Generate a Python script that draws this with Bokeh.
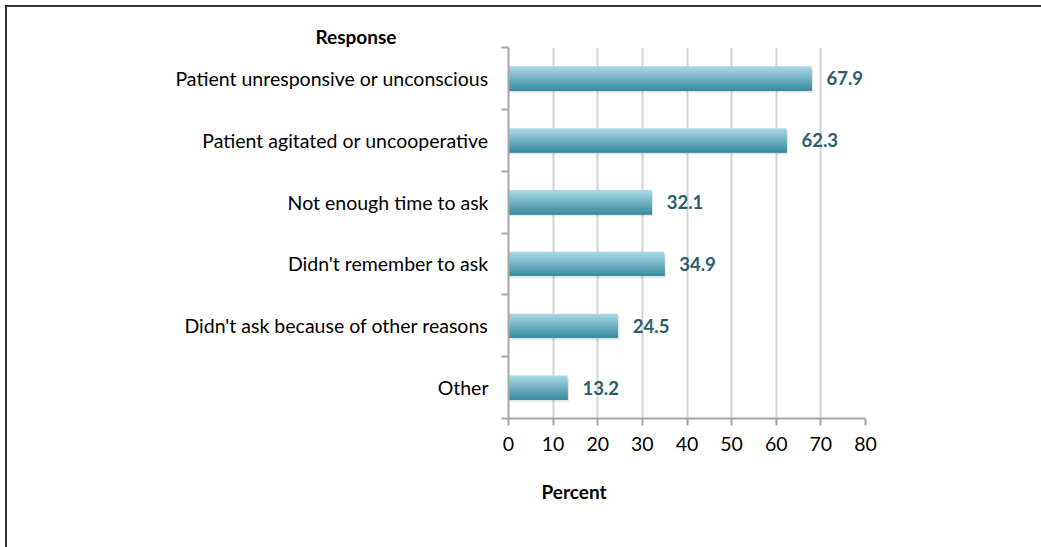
from bokeh.plotting import figure
from bokeh.models import Range1d, FixedTicker, Title
from bokeh.core.properties import value
from bokeh.embed import file_html
from bokeh.resources import INLINE

categories = [
    "Patient unresponsive or unconscious",
    "Patient agitated or uncooperative",
    "Not enough time to ask",
    "Didn't remember to ask",
    "Didn't ask because of other reasons",
    "Other",
]
percent = [67.9, 62.3, 32.1, 34.9, 24.5, 13.2]
x_ticks = [0, 10, 20, 30, 40, 50, 60, 70, 80]
y_title = "Response"
x_title = "Percent"

FONT = "Lato"
W, H = 1041, 547

pos = list(range(len(categories)))

p = figure(width=W, height=H, output_backend="svg", toolbar_location=None,
           x_range=Range1d(0, 80), y_range=Range1d(len(categories) - 0.5, -0.5),
           min_border_left=508, min_border_right=176, min_border_top=47,
           min_border_bottom=129,
           styles={"box-shadow": "inset 5px 5px 0 0 #ffffff, inset 7px 7px 0 0 #333333"})
p.outline_line_color = None
p.background_fill_color = "white"
p.border_fill_color = None

# grid
p.ygrid.grid_line_color = None
p.xgrid.grid_line_color = "#d2d2d2"
p.xgrid.grid_line_width = 2
p.xgrid.ticker = FixedTicker(ticks=x_ticks)

# x axis
xa = p.xaxis[0]
xa.ticker = FixedTicker(ticks=x_ticks)
xa.axis_line_color = "#a6a6a6"
xa.axis_line_width = 2
xa.major_tick_line_color = "#a6a6a6"
xa.major_tick_line_width = 2
xa.major_tick_out = 7
xa.major_tick_in = 0
xa.minor_tick_line_color = None
xa.major_label_text_font = FONT
xa.major_label_text_font_size = "19.5px"
xa.major_label_text_color = "#000000"
xa.major_label_standoff = 11

# y axis
ya = p.yaxis[0]
ya.ticker = FixedTicker(ticks=pos, minor_ticks=[i - 0.5 for i in range(len(categories) + 1)])
ya.major_label_overrides = {i: c for i, c in enumerate(categories)}
ya.axis_line_color = "#a6a6a6"
ya.axis_line_width = 2
ya.major_tick_line_color = None
ya.major_tick_out = 0
ya.major_tick_in = 0
ya.minor_tick_line_color = "#a6a6a6"
ya.minor_tick_line_width = 2
ya.minor_tick_out = 7
ya.minor_tick_in = 0
ya.major_label_text_font = FONT
ya.major_label_text_font_size = "19.5px"
ya.major_label_text_color = "#000000"
ya.major_label_standoff = 13

# bar shadow
bar_h = 0.39
p.hbar(y=[y + 0.035 for y in pos], left=0, right=[v + 0.35 for v in percent],
       height=bar_h, fill_color="#000000", fill_alpha=0.10, line_color=None)

# gradient bars: successive strips from each level down to the bar bottom
top_c = (0xa8, 0xd8, 0xe3)
bot_c = (0x3c, 0x8d, 0xa1)
n = 16
for k in range(n):
    t = k / (n - 1)
    c = tuple(int(round(top_c[i] + (bot_c[i] - top_c[i]) * t)) for i in range(3))
    col = "#%02x%02x%02x" % c
    start = -bar_h / 2 + k * bar_h / n
    h = bar_h / 2 - start
    p.hbar(y=[y + start + h / 2 for y in pos], left=0, right=percent, height=h,
           fill_color=col, line_color=None)

# value labels
p.text(x=percent, y=pos, text=[f"{v:.1f}" for v in percent], x_offset=15,
       text_baseline="middle", text_align="left", text_font=value(FONT),
       text_font_style="bold", text_font_size="18.5px", text_color="#2d5e6c")

p.add_layout(Title(text=y_title, align="left", offset=-193, standoff=0,
                   text_font=FONT, text_font_style="bold", text_font_size="19px",
                   text_color="#000000"), "above")
p.add_layout(Title(text=x_title, align="left", offset=33, standoff=48,
                   text_font=FONT, text_font_style="bold", text_font_size="19px",
                   text_color="#000000"), "below")

open("out.html", "w").write(file_html(p, INLINE))
